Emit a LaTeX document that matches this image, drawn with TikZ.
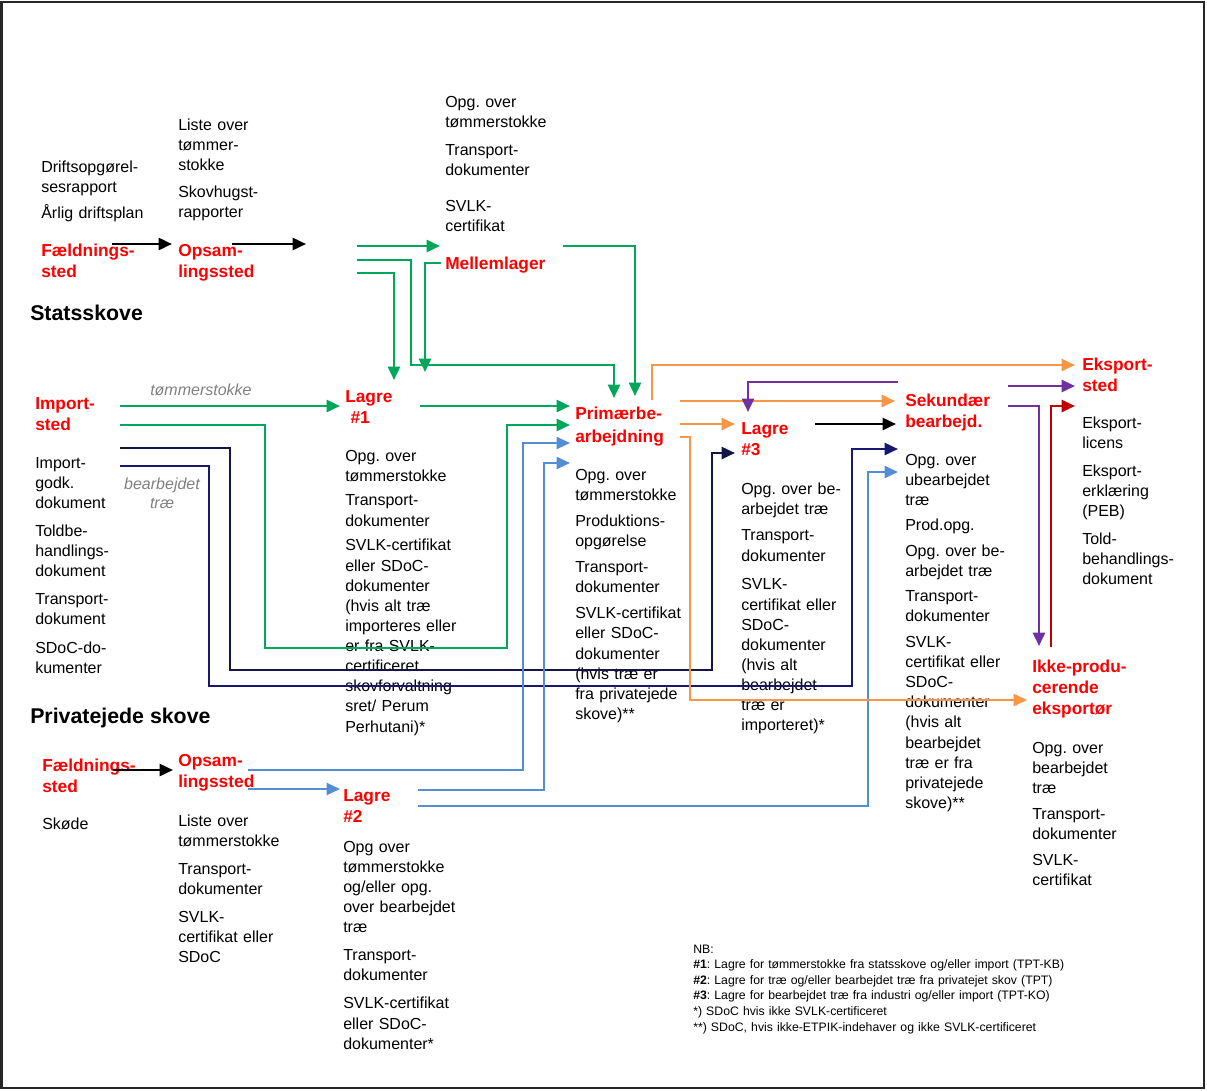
\documentclass[tikz,border=0pt]{standalone}
\usepackage{fontspec}
\setmainfont{Liberation Sans}
\usetikzlibrary{arrows.meta}
\frenchspacing
\definecolor{cgreen}{RGB}{0,166,90}
\definecolor{corange}{RGB}{247,150,70}
\definecolor{cblue}{RGB}{84,141,212}
\definecolor{cnavyA}{RGB}{20,20,70}
\definecolor{cnavyB}{RGB}{24,24,110}
\definecolor{cpurple}{RGB}{112,48,160}
\definecolor{cdred}{RGB}{192,0,0}
\definecolor{cred}{RGB}{255,0,0}
\definecolor{cgray}{RGB}{128,128,128}
\begin{document}
\frenchspacing
\begin{tikzpicture}[x=0.75pt,y=-0.75pt,
  doc/.style={anchor=base west, inner sep=0pt, text width=200pt, align=left, font=\fontsize{12}{15.1}\selectfont},
  lab/.style={anchor=base west, inner sep=0pt, text width=200pt, align=left, font=\fontsize{13}{16}\selectfont\bfseries, text=cred},
  head/.style={anchor=base west, inner sep=0pt, font=\fontsize{16}{19}\selectfont\bfseries},
  flowlbl/.style={inner sep=0pt, font=\fontsize{12}{14.3}\selectfont\itshape, text=cgray, align=center},
  tip/.style={-{Triangle[length=10pt,width=9pt]}},
  blk/.style={tip, line width=1.9pt, black},
  grn/.style={line width=1.9pt, cgreen},
  nvA/.style={line width=1.9pt, cnavyA},
  nvB/.style={line width=1.9pt, cnavyB},
  blu/.style={line width=1.5pt, cblue},
  org/.style={line width=1.9pt, corange},
  prp/.style={line width=1.9pt, cpurple},
  drd/.style={line width=1.9pt, cdred}
]
\useasboundingbox (0,0) rectangle (1207,1090);
\draw[line width=1.5pt, black!85] (1.5,1.5) rectangle (1204,1088);

% ---------- text: state forests ----------
\node[doc] (dfs1) at (41,172) {Driftsopgørel-\\sesrapport\\[5pt]Årlig driftsplan};
\node[lab] (fs1) at (41,256) {Fældnings-\\sted};
\node[doc] (dop1) at (178,130) {Liste over\\tømmer-\\stokke\\[5.5pt]Skovhugst-\\rapporter};
\node[lab] (op1) at (178,256) {Opsam-\\lingssted};
\node[doc] (dml) at (445,107) {Opg. over\\tømmerstokke\\[6pt]Transport-\\dokumenter\\[12pt]SVLK-\\certifikat};
\node[lab] (ml) at (445,269) {Mellemlager};
\node[head] (hs) at (30,320) {Statsskove};

% ---------- import ----------
\node[lab] (imp) at (35,409) {Import-\\sted};
\node[doc] (dimp) at (35,468) {Import-\\godk.\\dokument\\[6pt]Toldbe-\\handlings-\\dokument\\[6pt]Transport-\\dokument\\[6pt]SDoC-do-\\kumenter};
\node[flowlbl, anchor=base west] (ft) at (150,395) {tømmerstokke};
\node[flowlbl, text width=70pt, anchor=base] (fb) at (162,489) {bearbejdet\\træ};

% ---------- Lagre #1 ----------
\node[lab] (l1) at (345,402) {Lagre\\\hspace*{4pt}\#1};
\node[doc] (dl1) at (345,461) {Opg. over\\tømmerstokke\\[3.5pt]Transport-\\dokumenter\\[3.5pt]SVLK-certifikat\\eller SDoC-\\dokumenter\\(hvis alt træ\\importeres eller\\er fra SVLK-\\certificeret\\skovforvaltning\\sret/ Perum\\Perhutani)*};

% ---------- Primær ----------
\node[lab] (pb) at (575,419) {Primærbe-\\[1.5pt]arbejdning};
\node[doc] (dpb) at (575,480) {Opg. over\\tømmerstokke\\[4.5pt]Produktions-\\opgørelse\\[4.5pt]Transport-\\dokumenter\\[4.5pt]SVLK-certifikat\\eller SDoC-\\dokumenter\\(hvis træ er\\fra privatejede\\skove)**};

% ---------- Lagre #3 ----------
\node[lab] (l3) at (741,434) {Lagre\\\#3};
\node[doc] (dl3) at (741,494) {Opg. over be-\\arbejdet træ\\[5pt]Transport-\\dokumenter\\[6.5pt]SVLK-\\certifikat eller\\SDoC-\\dokumenter\\(hvis alt\\bearbejdet\\træ er\\importeret)*};

% ---------- Sekundær ----------
\node[lab] (sb) at (905,406) {Sekundær\\bearbejd.};
\node[doc] (dsb) at (905,465) {Opg. over\\ubearbejdet\\træ\\[4pt]Prod.opg.\\[4pt]Opg. over be-\\arbejdet træ\\[4pt]Transport-\\dokumenter\\[4pt]SVLK-\\certifikat eller\\SDoC-\\dokumenter\\(hvis alt\\bearbejdet\\træ er fra\\privatejede\\skove)**};

% ---------- Eksport ----------
\node[lab] (es) at (1082,370) {Eksport-\\sted};
\node[doc] (des) at (1082,428) {Eksport-\\licens\\[6pt]Eksport-\\erklæring\\(PEB)\\[6pt]Told-\\behandlings-\\dokument};
\node[lab] (ip) at (1032,672) {Ikke-produ-\\cerende\\eksportør};
\node[doc] (dip) at (1032,753) {Opg. over\\bearbejdet\\træ\\[4.5pt]Transport-\\dokumenter\\[4.5pt]SVLK-\\certifikat};

% ---------- private forests ----------
\node[head] (hp) at (30,723) {Privatejede skove};
\node[lab] (fs2) at (42,771) {Fældnings-\\sted};
\node[doc] (dfs2) at (42,829) {Skøde};
\node[lab] (op2) at (178,766) {Opsam-\\lingssted};
\node[doc] (dop2) at (178,826) {Liste over\\tømmerstokke\\[6pt]Transport-\\dokumenter\\[6pt]SVLK-\\certifikat eller\\SDoC};
\node[lab] (l2) at (343,801) {Lagre\\\#2};
\node[doc] (dl2) at (343,852) {Opg over\\tømmerstokke\\og/eller opg.\\over bearbejdet\\træ\\[6pt]Transport-\\dokumenter\\[6pt]SVLK-certifikat\\eller SDoC-\\dokumenter*};

% ---------- NB ----------
\node[anchor=base west, inner sep=0pt, text width=420pt, align=left, font=\fontsize{9.2}{11.7}\selectfont] (nb) at (693,953)
 {NB:\\\textbf{\#1}: Lagre for tømmerstokke fra statsskove og/eller import (TPT-KB)\\\textbf{\#2}: Lagre for træ og/eller bearbejdet træ fra privatejet skov (TPT)\\\textbf{\#3}: Lagre for bearbejdet træ fra industri og/eller import (TPT-KO)\\{}*) SDoC hvis ikke SVLK-certificeret\\{}**) SDoC, hvis ikke-ETPIK-indehaver og ikke SVLK-certificeret};

% ---------- connector end points ----------
\coordinate (k1a) at (112,244); \coordinate (k1b) at (172,244);
\coordinate (k2a) at (232,244); \coordinate (k2b) at (306,244);
\coordinate (k3a) at (113,770); \coordinate (k3b) at (173,770);
\coordinate (k4a) at (815,424); \coordinate (k4b) at (896,424);

\coordinate (g1a) at (357,246); \coordinate (g1b) at (440,246);
\coordinate (g2a) at (357,260); \coordinate (g2b) at (614,398);
\coordinate (g3a) at (357,273); \coordinate (g3b) at (394,380);
\coordinate (g4a) at (441,263); \coordinate (g4b) at (425,372);
\coordinate (g5a) at (563,246); \coordinate (g5b) at (635,396);
\coordinate (g6a) at (120,406); \coordinate (g6b) at (340,406);
\coordinate (g7a) at (120,425); \coordinate (g7b) at (570,425);
\coordinate (g8a) at (420,406); \coordinate (g8b) at (570,406);

\coordinate (n1a) at (120,448); \coordinate (n1b) at (735,453);
\coordinate (n2a) at (120,466); \coordinate (n2b) at (898,449);

\coordinate (b1a) at (248,770); \coordinate (b1b) at (570,443);
\coordinate (b2a) at (248,789); \coordinate (b2b) at (340,789);
\coordinate (b3a) at (418,790); \coordinate (b3b) at (570,463);
\coordinate (b4a) at (418,806); \coordinate (b4b) at (898,472);

\coordinate (o1a) at (652,400); \coordinate (o1b) at (1075,365);
\coordinate (o2a) at (680,401); \coordinate (o2b) at (895,401);
\coordinate (o3a) at (680,424); \coordinate (o3b) at (735,424);
\coordinate (o4a) at (680,437); \coordinate (o4b) at (1027,700);

\coordinate (p1a) at (898,382); \coordinate (p1b) at (748,412);
\coordinate (p2a) at (1008,386); \coordinate (p2b) at (1075,386);
\coordinate (p3a) at (1008,406); \coordinate (p3b) at (1039,646);
\coordinate (r1a) at (1051,647); \coordinate (r1b) at (1075,406);

% ---------- connectors ----------
\draw[blk] (k1a) -- (k1b);
\draw[blk] (k2a) -- (k2b);
\draw[blk] (k3a) -- (k3b);
\draw[blk] (k4a) -- (k4b);

\draw[grn, tip] (g1a) -- (g1b);
\draw[grn, tip] (g2a) -- (411,260) -- (411,365) -- (614,365) -- (g2b);
\draw[grn, tip] (g3a) -- (394,273) -- (g3b);
\draw[grn, tip] (g4a) -- (425,263) -- (g4b);
\draw[grn, tip] (g5a) -- (635,246) -- (g5b);
\draw[grn, tip] (g6a) -- (g6b);
\draw[grn, tip] (g7a) -- (265,425) -- (265,648) -- (507,648) -- (507,425) -- (g7b);
\draw[grn, tip] (g8a) -- (g8b);

\draw[nvA, tip] (n1a) -- (230,448) -- (230,670) -- (712,670) -- (712,453) -- (n1b);
\draw[nvB, tip] (n2a) -- (209,466) -- (209,686) -- (852,686) -- (852,449) -- (n2b);

\draw[blu, tip] (b1a) -- (523,770) -- (523,443) -- (b1b);
\draw[blu, tip] (b2a) -- (b2b);
\draw[blu, tip] (b3a) -- (544,790) -- (544,463) -- (b3b);
\draw[blu, tip] (b4a) -- (868,806) -- (868,472) -- (b4b);

\draw[org, tip] (o1a) -- (652,365) -- (o1b);
\draw[org, tip] (o2a) -- (o2b);
\draw[org, tip] (o3a) -- (o3b);
\draw[org, tip] (o4a) -- (690,437) -- (690,700) -- (o4b);

\draw[prp, tip] (p1a) -- (748,382) -- (p1b);
\draw[prp, tip] (p2a) -- (p2b);
\draw[prp, tip] (p3a) -- (1039,406) -- (p3b);
\draw[drd, tip] (r1a) -- (1051,406) -- (r1b);
\end{tikzpicture}
\end{document}
